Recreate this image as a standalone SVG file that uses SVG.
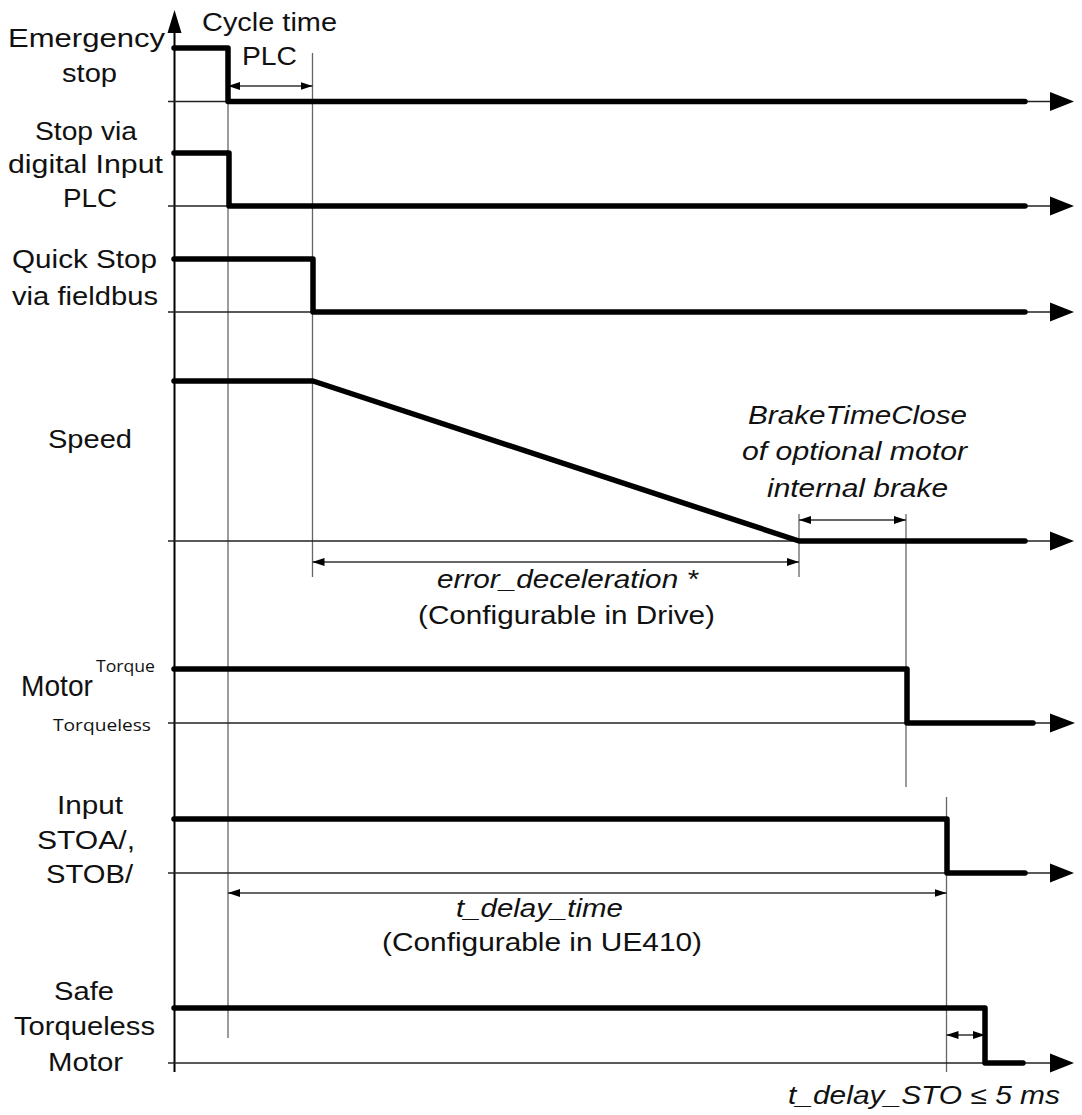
<svg xmlns="http://www.w3.org/2000/svg" width="1082" height="1115" viewBox="0 0 1082 1115">
<style>
text{font-family:"Liberation Sans",Arial,sans-serif;font-size:25px;fill:#111}
.it{font-style:italic}
.os{font-family:"Open Sans","Liberation Sans",sans-serif}
.big{font-size:29px}
.small{font-size:17px}
.sig{fill:none;stroke:#000;stroke-width:5.5;stroke-linecap:round;stroke-linejoin:round}
.base{stroke:#222;stroke-width:1.6}
.grid{stroke:#666;stroke-width:1.3}
.dim{stroke:#333;stroke-width:1.3;marker-start:url(#ah);marker-end:url(#ah)}
.head{fill:#000}
</style>
<defs>
<marker id="ah" viewBox="0 0 12 8" refX="12" refY="4" markerWidth="12" markerHeight="8" markerUnits="userSpaceOnUse" orient="auto-start-reverse">
<path d="M0,0 L12,4 L0,8 Z" fill="#000"/>
</marker>
</defs>
<rect width="1082" height="1115" fill="#fff"/>

<g id="connectors">
<line class="grid" x1="228" y1="48" x2="228" y2="1038"/>
<line class="grid" x1="312.5" y1="53" x2="312.5" y2="577"/>
<line class="grid" x1="799" y1="514" x2="799" y2="577"/>
<line class="grid" x1="906" y1="514" x2="906" y2="787"/>
<line class="grid" x1="946.5" y1="797" x2="946.5" y2="1072"/>
<line x1="174.5" y1="30" x2="174.5" y2="1072" stroke="#000" stroke-width="2"/>
<polygon class="head" points="174.5,10 167.5,33 181.5,33"/>
<line class="base" x1="168" y1="101.5" x2="1052" y2="101.5"/>
<polygon class="head" points="1074,101.5 1050,92 1050,111"/>
<line class="base" x1="168" y1="206" x2="1052" y2="206"/>
<polygon class="head" points="1074,206 1050,196.5 1050,215.5"/>
<line class="base" x1="168" y1="312" x2="1052" y2="312"/>
<polygon class="head" points="1074,312 1050,302.5 1050,321.5"/>
<line class="base" x1="168" y1="541" x2="1052" y2="541"/>
<polygon class="head" points="1074,541 1050,531.5 1050,550.5"/>
<line class="base" x1="168" y1="723" x2="1052" y2="723"/>
<polygon class="head" points="1075,723 1050,713.5 1050,732.5"/>
<line class="base" x1="168" y1="873" x2="1052" y2="873"/>
<polygon class="head" points="1074,873 1050,863.5 1050,882.5"/>
<line class="base" x1="168" y1="1063" x2="1052" y2="1063"/>
<polygon class="head" points="1074,1063 1050,1053.5 1050,1072.5"/>
<line class="dim" x1="228" y1="86" x2="312.5" y2="86"/>
<line class="dim" x1="799" y1="520" x2="906" y2="520"/>
<line class="dim" x1="312.5" y1="562" x2="799" y2="562"/>
<line class="dim" x1="228" y1="893" x2="946.5" y2="893"/>
<line class="dim" x1="946.5" y1="1035" x2="985" y2="1035"/>
</g>

<g id="emergency-stop">
<path class="sig" d="M174,48 H228 V101.5 H1025"/>
<text x="8" y="47" textLength="157" lengthAdjust="spacingAndGlyphs">Emergency</text>
<text x="62" y="82" textLength="55" lengthAdjust="spacingAndGlyphs">stop</text>
</g>

<g id="cycle-time-plc">
<text x="202" y="31" textLength="135" lengthAdjust="spacingAndGlyphs">Cycle time</text>
<text x="242" y="65" textLength="55" lengthAdjust="spacingAndGlyphs">PLC</text>
</g>

<g id="stop-digital-input">
<path class="sig" d="M174,153 H229 V206 H1025"/>
<text x="35" y="140" textLength="102" lengthAdjust="spacingAndGlyphs">Stop via</text>
<text x="8" y="173" textLength="155" lengthAdjust="spacingAndGlyphs">digital Input</text>
<text x="63" y="207" textLength="54" lengthAdjust="spacingAndGlyphs">PLC</text>
</g>

<g id="quick-stop">
<path class="sig" d="M174,259 H313 V312 H1025"/>
<text x="12" y="268" textLength="145" lengthAdjust="spacingAndGlyphs">Quick Stop</text>
<text x="12" y="305" textLength="146" lengthAdjust="spacingAndGlyphs">via fieldbus</text>
</g>

<g id="speed">
<path class="sig" d="M174,381 H313 L799,541 H1025"/>
<text x="48" y="448" textLength="84" lengthAdjust="spacingAndGlyphs">Speed</text>
</g>

<g id="brake-time-close">
<text class="it" x="748" y="424" textLength="219" lengthAdjust="spacingAndGlyphs">BrakeTimeClose</text>
<text class="it" x="742" y="460" textLength="225" lengthAdjust="spacingAndGlyphs">of optional motor</text>
<text class="it" x="767" y="497" textLength="181" lengthAdjust="spacingAndGlyphs">internal brake</text>
</g>

<g id="error-deceleration">
<text class="it" x="437" y="588" textLength="261" lengthAdjust="spacingAndGlyphs">error_deceleration *</text>
<text x="418" y="624" textLength="297" lengthAdjust="spacingAndGlyphs">(Configurable in Drive)</text>
</g>

<g id="motor">
<path class="sig" d="M174,669 H907 V723 H1033"/>
<text class="big" x="21" y="696" textLength="72" lengthAdjust="spacingAndGlyphs">Motor</text>
<text class="os small" x="96" y="672" textLength="59" lengthAdjust="spacingAndGlyphs">Torque</text>
<text class="os small" x="53" y="731" textLength="98" lengthAdjust="spacingAndGlyphs">Torqueless</text>
</g>

<g id="input-sto">
<path class="sig" d="M174,819 H947 V873 H1025"/>
<text x="57" y="814" textLength="66" lengthAdjust="spacingAndGlyphs">Input</text>
<text x="37" y="849" textLength="98" lengthAdjust="spacingAndGlyphs">STOA/,</text>
<text x="46" y="883" textLength="87" lengthAdjust="spacingAndGlyphs">STOB/</text>
</g>

<g id="t-delay-time">
<text class="it" x="456" y="917" textLength="167" lengthAdjust="spacingAndGlyphs">t_delay_time</text>
<text x="382" y="951" textLength="320" lengthAdjust="spacingAndGlyphs">(Configurable in UE410)</text>
</g>

<g id="safe-torqueless-motor">
<path class="sig" d="M174,1008 H985 V1063 H1023"/>
<text x="54" y="1000" textLength="60" lengthAdjust="spacingAndGlyphs">Safe</text>
<text x="14" y="1035" textLength="141" lengthAdjust="spacingAndGlyphs">Torqueless</text>
<text x="48" y="1071" textLength="75" lengthAdjust="spacingAndGlyphs">Motor</text>
</g>

<g id="t-delay-sto">
<text class="it" x="788" y="1104" textLength="272" lengthAdjust="spacingAndGlyphs">t_delay_STO ≤ 5 ms</text>
</g>
</svg>
